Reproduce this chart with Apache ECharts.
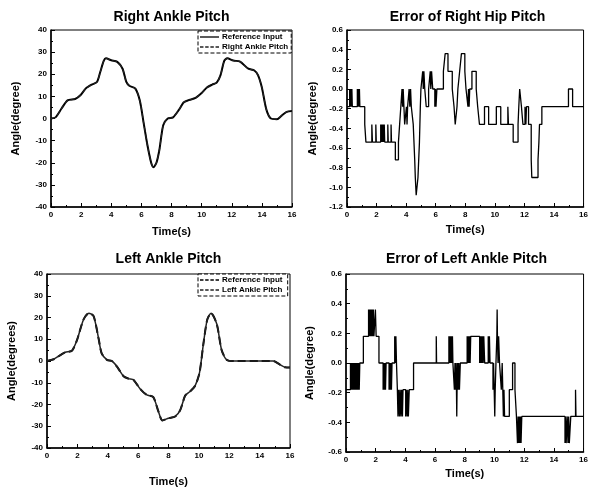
<!DOCTYPE html>
<html><head><meta charset="utf-8">
<script src="https://cdn.jsdelivr.net/npm/echarts@6/dist/echarts.min.js"></script>
<style>html,body{margin:0;padding:0;background:#fff}#c{width:591px;height:488px}</style>
</head><body><div id="c"></div>
<script>
// Panel titles
var titles = ['Right Ankle Pitch', 'Error of Right Hip Pitch', 'Left Ankle Pitch', 'Error of Left Ankle Pitch'];
var yNames = ['Angle(degree)', 'Angle(degree)', 'Angle(degrees)', 'Angle(degree)'];
var xName = 'Time(s)';

// Right ankle pitch (top-left)
var rapT   = [0,0.3,0.7,1.1,1.6,1.95,2.3,2.7,3.05,3.27,3.5,3.65,4.0,4.4,4.75,5.0,5.2,5.6,5.9,6.15,6.4,6.65,6.8,7.0,7.2,7.45,7.75,8.1,8.5,8.8,9.1,9.6,10.0,10.35,10.7,11.0,11.25,11.5,11.7,12.1,12.55,13.1,13.5,13.75,14.0,14.3,14.6,15.0,15.3,15.65,16];
var rapRef = [0,0.5,4.5,8.2,8.8,10.5,13.5,15.3,16.5,21,26,27.2,26.3,25.6,22.5,16.5,14.8,13.5,8,-2,-12,-20,-22,-20,-14,-3,0,0.5,4,7.2,8.2,9.3,11.5,14,15.3,16.2,19.5,26,27.2,26.2,25.7,22.5,21.7,19.5,14,4,0,-0.3,1.2,3,3.4];
var rapAct = [0,0.5,4.5,8.2,8.8,10.5,13.5,15.3,16.5,21,26,27.2,26.3,25.6,22.5,16.5,14.8,13.5,8,-2,-12,-20,-22,-20,-14,-3,0,0.5,4,7.2,8.2,9.3,11.5,14,15.3,16.2,19.5,26,27.2,26.2,25.7,22.5,21.7,19.5,14,4,0,-0.3,1.2,3,3.4];

// Left ankle pitch (bottom-left)
var lapT   = [0,0.44,0.88,1.2,1.64,1.97,2.4,2.75,3.07,3.4,3.6,3.95,4.27,4.6,5.04,5.37,5.7,6.14,6.57,7.0,7.34,7.6,8.0,8.44,8.77,9.1,9.42,9.75,10.04,10.3,10.55,10.8,11.18,11.5,11.84,12.3,13,14,14.9,15.34,15.67,16];
var lapRef = [0,0.8,2.7,4,4.7,9.5,19,22,20.6,10.2,3.5,0.5,0,-2.5,-7,-8.1,-8.7,-12.9,-15.6,-16.6,-23.3,-27.3,-26.3,-25.5,-22.6,-15.9,-14,-11.4,-5.5,8,19,22,17,5,0.5,0,0,0,0,-1.7,-2.9,-3];
var lapAct = [0,0.8,2.7,4,4.7,9.5,19,22,20.6,10.2,3.5,0.5,0,-2.5,-7,-8.1,-8.7,-12.9,-15.6,-16.6,-23.3,-27.3,-26.3,-25.5,-22.6,-15.9,-14,-11.4,-5.5,8,19,22,17,5,0.5,0,0,0,0,-1.7,-2.9,-3];

// Error of right hip pitch (top-right), [time, value] steps
var errHip = [[0,-0.18],[0.18,0],[0.22,-0.18],[0.26,0],[0.3,-0.18],[0.33,0],[0.36,-0.18],[0.7,0],[0.74,-0.18],[0.78,0],[0.81,-0.18],[0.84,0],[0.87,-0.18],[1.2,-0.36],[1.28,-0.54],[1.68,-0.36],[1.72,-0.54],[1.95,-0.36],[1.98,-0.54],[2.28,-0.36],[2.31,-0.54],[2.34,-0.36],[2.37,-0.54],[2.4,-0.36],[2.43,-0.54],[2.46,-0.36],[2.49,-0.54],[2.52,-0.36],[2.55,-0.54],[2.76,-0.36],[2.79,-0.54],[2.98,-0.36],[3.01,-0.54],[3.27,-0.72],[3.48,-0.54],[3.56,-0.36],[3.64,-0.18],[3.72,0],[3.76,-0.18],[3.8,0],[3.85,-0.18],[3.9,-0.36],[4.02,-0.18],[4.06,-0.36],[4.1,-0.18],[4.2,0],[4.25,-0.18],[4.3,0],[4.35,-0.18],[4.48,-0.36],[4.58,-0.72],[4.62,-0.9],[4.68,-1.08],[4.8,-0.9],[4.9,-0.54],[4.93,-0.36],[4.96,-0.18],[5.0,0],[5.12,0.18],[5.16,0],[5.2,0.18],[5.26,0],[5.36,-0.18],[5.52,0],[5.63,0.18],[5.67,0],[5.72,0.18],[5.8,0],[5.94,-0.18],[5.98,0],[6.02,-0.18],[6.08,0],[6.52,0.18],[6.64,0.36],[6.83,0.18],[7.12,0],[7.24,-0.18],[7.32,-0.36],[7.44,-0.18],[7.5,0],[7.62,0.18],[7.74,0.36],[7.97,0.18],[8.05,0],[8.18,-0.18],[8.22,0],[8.26,-0.18],[8.3,0],[8.45,0.18],[8.74,0],[8.84,-0.18],[8.96,-0.36],[9.3,-0.18],[9.58,-0.36],[10.1,-0.18],[10.4,-0.36],[10.88,-0.18],[10.92,-0.36],[11.24,-0.54],[11.57,-0.36],[11.62,-0.18],[11.68,0],[11.8,-0.18],[11.9,-0.36],[12.04,-0.18],[12.1,-0.36],[12.14,-0.18],[12.28,-0.36],[12.46,-0.72],[12.5,-0.9],[12.92,-0.72],[12.98,-0.54],[13.02,-0.36],[13.18,-0.18],[14.98,0],[15.26,-0.18],[16,-0.18]];

// Error of left ankle pitch (bottom-right), [time, value] steps
var errAnkle = [[0,-0.18],[0.3,0],[0.33,-0.18],[0.37,0],[0.41,-0.18],[0.45,0],[0.49,-0.18],[0.53,0],[0.57,-0.18],[0.61,0],[0.65,-0.18],[0.69,0],[0.73,-0.18],[0.77,0],[0.81,-0.18],[0.85,0],[0.89,-0.18],[0.93,0],[1.17,0.18],[1.52,0.36],[1.56,0.18],[1.6,0.36],[1.64,0.18],[1.68,0.36],[1.72,0.18],[1.76,0.36],[1.8,0.18],[1.84,0.36],[1.88,0.18],[1.98,0.36],[2.03,0.18],[2.22,0],[2.5,-0.18],[2.54,0],[2.58,-0.18],[2.62,0],[2.66,-0.18],[2.7,0],[2.9,-0.18],[2.94,0],[2.98,-0.18],[3.02,0],[3.06,-0.18],[3.1,0],[3.28,0.18],[3.32,0],[3.36,0.18],[3.4,0],[3.46,-0.18],[3.5,-0.36],[3.55,-0.18],[3.6,-0.36],[3.65,-0.18],[3.7,-0.36],[3.75,-0.18],[3.8,-0.36],[3.84,-0.18],[4.02,-0.36],[4.06,-0.18],[4.12,-0.36],[4.16,-0.18],[4.2,-0.36],[4.26,-0.18],[4.55,0],[6.08,0.18],[6.1,0],[6.93,0.18],[6.97,0],[7.01,0.18],[7.05,0],[7.09,0.18],[7.13,0],[7.17,0.18],[7.2,0],[7.3,-0.18],[7.34,0],[7.38,-0.18],[7.42,0],[7.46,-0.36],[7.48,-0.18],[7.52,0],[7.56,-0.18],[7.6,0],[7.64,-0.18],[7.7,0],[8.16,0.18],[8.2,0],[8.24,0.18],[8.28,0],[8.32,0.18],[8.36,0],[8.4,0.18],[9.0,0],[9.04,0.18],[9.08,0],[9.12,0.18],[9.16,0],[9.2,0.18],[9.24,0],[9.28,0.18],[9.34,0],[9.58,0.18],[9.62,0],[9.66,0.18],[9.7,0],[9.9,-0.18],[9.94,0],[9.98,-0.18],[10.02,-0.36],[10.05,-0.18],[10.1,0],[10.16,0.18],[10.18,0.36],[10.2,0.18],[10.24,0],[10.28,0.18],[10.34,0],[10.46,-0.18],[10.52,0],[10.56,-0.18],[10.6,-0.36],[10.64,-0.18],[10.68,-0.36],[11.0,-0.18],[11.22,0],[11.38,-0.18],[11.48,-0.36],[11.55,-0.54],[11.59,-0.36],[11.63,-0.54],[11.67,-0.36],[11.71,-0.54],[11.75,-0.36],[11.79,-0.54],[11.84,-0.36],[14.75,-0.54],[14.79,-0.36],[14.83,-0.54],[14.9,-0.36],[14.95,-0.54],[15.0,-0.36],[15.04,-0.54],[15.14,-0.36],[15.46,-0.18],[15.49,-0.36],[16,-0.36]];

var FONT = '"Liberation Sans", Arial, sans-serif';
function pairs(t, v){ return t.map(function(x,i){ return [x, v[i]]; }); }
var ICON_SOLID = 'path://M0,0h22v1.5h-22z';
var ICON_DASH = 'path://M0,0h4v1.5h-4z M6,0h4v1.5h-4z M12,0h4v1.5h-4z M18,0h4v1.5h-4z';

var grids = [
  {left:51, top:30, width:241, height:177},
  {left:347, top:30, width:241, height:177},
  {left:47, top:274, width:243, height:178},
  {left:346, top:274, width:241, height:178}
];
var yRanges = [[-40,40,10],[-1.2,0.6,0.2],[-40,40,10],[-0.6,0.6,0.2]];
var xNameGaps = [19, 17, 28, 16];
var yNameGaps = [30, 29, 30, 31];

function legendCfg(left, top, w, names, icons){
  return {data: names.map(function(n,k){ return {name:n, icon:icons[k]}; }),
    orient:'vertical', left:left, top:top, width:w,
    itemWidth:19, itemHeight:1.5, itemGap:2, padding:[2,3,2,2],
    borderColor:'#000', borderWidth:1, borderType:'dashed', backgroundColor:'#fff',
    textStyle:{fontSize:8, fontWeight:'bold', color:'#000', fontFamily:FONT, padding:[0,0,0,-2]}};
}

var option = {
  backgroundColor:'#fff',
  animation:false,
  textStyle:{fontFamily:FONT},
  title: titles.map(function(t,i){
    var g = grids[i];
    return {text:t, left:g.left + g.width/2, textAlign:'center', top:(i<2? 10 : 252),
      textStyle:{fontSize:14, fontWeight:'bold', color:'#000', fontFamily:FONT}, padding:0};
  }),
  grid: grids.map(function(g){ return Object.assign({show:true, borderColor:'#000', borderWidth:1, backgroundColor:'transparent'}, g); }),
  xAxis: grids.map(function(g,i){
    return {type:'value', gridIndex:i, min:0, max:16, interval:2,
      axisLine:{show:true, onZero:false, lineStyle:{color:'#000', width:1.5}},
      axisTick:{show:true, inside:true, length:4, lineStyle:{color:'#000', width:1}},
      minorTick:{show:true, splitNumber:2, length:2, lineStyle:{color:'#000'}},
      splitLine:{show:false}, minorSplitLine:{show:false},
      axisLabel:{color:'#000', fontSize:8, fontWeight:'bold', margin:4, fontFamily:FONT},
      name:xName, nameLocation:'middle', nameGap:xNameGaps[i],
      nameTextStyle:{color:'#000', fontSize:11, fontWeight:'bold', fontFamily:FONT}};
  }),
  yAxis: grids.map(function(g,i){
    var r = yRanges[i];
    return {type:'value', gridIndex:i, min:r[0], max:r[1], interval:r[2],
      axisLine:{show:true, onZero:false, lineStyle:{color:'#000', width:1.5}},
      axisTick:{show:true, inside:true, length:4, lineStyle:{color:'#000', width:1}},
      minorTick:{show:true, splitNumber:2, length:2, lineStyle:{color:'#000'}},
      splitLine:{show:false}, minorSplitLine:{show:false},
      axisLabel:{color:'#000', fontSize:8, fontWeight:'bold', margin:4, fontFamily:FONT,
        formatter: function(v){ return (i===1||i===3) ? v.toFixed(1) : Math.round(v).toString(); }},
      name:yNames[i], nameLocation:'middle', nameGap:yNameGaps[i], nameRotate:90,
      nameTextStyle:{color:'#000', fontSize:11, fontWeight:'bold', fontFamily:FONT}};
  }),
  legend: [
    legendCfg(198, 31, 94, ['Reference Input','Right Ankle Pitch'], [ICON_SOLID, ICON_DASH]),
    legendCfg(198, 274, 91, ['Reference Input ','Left Ankle Pitch'], [ICON_DASH, ICON_DASH])
  ],
  series: [
    {name:'Reference Input', type:'line', xAxisIndex:0, yAxisIndex:0, data:pairs(rapT, rapRef), smooth:0.25, symbol:'none', showSymbol:false,
     lineStyle:{color:'#000', width:2}, itemStyle:{color:'#000'}},
    {name:'Right Ankle Pitch', type:'line', xAxisIndex:0, yAxisIndex:0, data:pairs(rapT, rapAct), smooth:0.25, symbol:'none', showSymbol:false,
     lineStyle:{color:'#222', width:1.2, type:'dashed'}, itemStyle:{color:'#222'}},
    {name:'Error of Right Hip Pitch', type:'line', xAxisIndex:1, yAxisIndex:1, data:errHip, step:'end', symbol:'none', showSymbol:false,
     lineStyle:{color:'#000', width:1.3}},
    {name:'Reference Input ', type:'line', xAxisIndex:2, yAxisIndex:2, data:pairs(lapT, lapRef), smooth:0.25, symbol:'none', showSymbol:false,
     lineStyle:{color:'#000', width:2, type:'dashed'}, itemStyle:{color:'#000'}},
    {name:'Left Ankle Pitch', type:'line', xAxisIndex:2, yAxisIndex:2, data:pairs(lapT, lapAct), smooth:0.25, symbol:'none', showSymbol:false,
     lineStyle:{color:'#222', width:1.5}, itemStyle:{color:'#222'}},
    {name:'Error of Left Ankle Pitch', type:'line', xAxisIndex:3, yAxisIndex:3, data:errAnkle, step:'end', symbol:'none', showSymbol:false,
     lineStyle:{color:'#000', width:1.3}}
  ]
};
var chart = echarts.init(document.getElementById('c'), null, {renderer:'canvas'});
chart.setOption(option);
</script>
</body></html>
